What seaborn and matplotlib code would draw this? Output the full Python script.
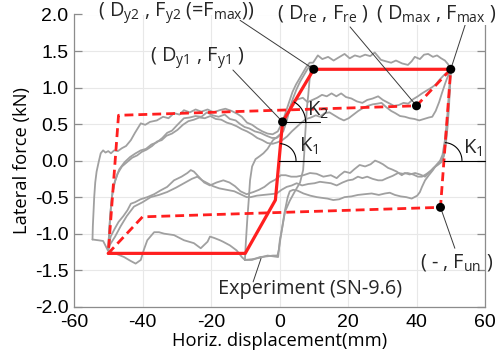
import numpy as np
import matplotlib
matplotlib.use("Agg")
import matplotlib.pyplot as plt
import seaborn as sns

# ---------------- data ----------------
x_ticks = [-60, -40, -20, 0, 20, 40, 60]
y_ticks = [-2.0, -1.5, -1.0, -0.5, 0.0, 0.5, 1.0, 1.5, 2.0]

# key points of the model (mm, kN)
pt_names = ["Dy1", "Dy2", "Dre", "Dmax", "Fun"]
pt_x = [0.9, 10.0, 40.0, 50.0, 47.0]
pt_y = [0.53, 1.25, 0.75, 1.25, -0.64]

# skeleton (solid) and unloading/reloading (dashed) model lines
skel_x = [-50.0, -10.0, -1.2, 0.9, 10.0, 50.0]
skel_y = [-1.27, -1.27, -0.54, 0.53, 1.25, 1.25]
hyst_x = [50.0, 40.0, -47.0, -50.0, -40.0, 47.0, 50.0]
hyst_y = [1.25, 0.75, 0.62, -1.27, -0.77, -0.64, 1.25]

# experiment (SN-9.6) branches
exp_up1 = [(-54.6,-1.08),(-54.5,-0.9),(-54.3,-0.7),(-54.1,-0.5),(-53.8,-0.3),(-53.4,-0.15),(-52.8,-0.02),
           (-52.2,0.10),(-51.5,0.14),(-50.8,0.11),(-50.0,0.13),(-49.2,0.10),(-48.3,0.14),(-47.2,0.13),
           (-46.0,0.17),(-44.8,0.20),(-43.4,0.28),(-42.2,0.38),(-40.5,0.51),(-39.2,0.49),(-37.8,0.53),
           (-35.8,0.55),(-34.0,0.60),(-32.4,0.58),(-30.8,0.65),(-29.2,0.63),(-27.9,0.69),(-26.2,0.66),
           (-24.5,0.70),(-22.8,0.67),(-21.0,0.70),(-19.2,0.66),(-17.5,0.69),(-15.8,0.71),(-14.0,0.68),
           (-12.3,0.64),(-11.0,0.60),(-9.5,0.52),(-8.0,0.49),(-6.5,0.44),(-5.0,0.40),(-3.5,0.37),
           (-2.0,0.36),(-0.5,0.40),(0.8,0.52),(1.8,0.66),(2.8,0.80),(3.8,0.94),(4.8,1.04),(5.8,1.12),
           (6.8,1.20),(7.8,1.28),(8.8,1.34),(9.8,1.34),(11.2,1.44),(12.5,1.39),(14.2,1.42),(15.8,1.37),
           (17.2,1.41),(19.0,1.46),(20.5,1.40),(22.0,1.44),(23.5,1.42),(25.0,1.45),(26.5,1.43),
           (27.8,1.48),(29.6,1.38),(31.0,1.36),(32.6,1.34),(34.0,1.37),(35.8,1.33),(37.5,1.31),
           (38.6,1.36),(39.5,1.42),(41.0,1.39),(42.2,1.45),(43.4,1.46),(44.8,1.42),(46.0,1.44),
           (47.2,1.40),(48.3,1.37),(49.2,1.32),(50.0,1.25)]
exp_up2 = [(-50.0,-1.22),(-49.7,-0.95),(-49.3,-0.68),(-48.8,-0.45),(-48.0,-0.28),(-46.8,-0.12),(-45.2,-0.02),
           (-43.6,0.05),(-42.0,0.10),(-40.5,0.14),(-39.0,0.16),(-37.4,0.22),(-35.8,0.25),(-34.2,0.31),
           (-32.8,0.38),(-31.4,0.41),(-29.8,0.49),(-27.9,0.58),(-26.2,0.59),(-24.5,0.61),(-22.8,0.60),
           (-21.2,0.66),(-19.5,0.62),(-17.8,0.60),(-16.0,0.63),(-14.5,0.57),(-12.8,0.55),(-11.5,0.50),
           (-10.2,0.46),(-8.8,0.44),(-7.2,0.40),(-5.6,0.38),(-3.8,0.34),(-2.2,0.31),(-0.8,0.31),
           (0.4,0.36),(1.4,0.46),(2.3,0.60),(3.2,0.74),(4.2,0.82),(5.4,0.84),(6.8,0.86),(8.2,0.80),
           (9.6,0.83),(11.0,0.86),(12.4,0.90),(13.8,0.88),(15.2,0.92),(16.6,0.88),(18.0,0.92),
           (19.4,0.87),(21.0,0.85),(22.6,0.81),(24.2,0.79),(25.6,0.83),(27.2,0.85),(28.8,0.88),
           (30.2,0.83),(31.8,0.79),(33.4,0.75),(34.8,0.76),(36.2,0.79),(37.6,0.78),(39.0,0.84),
           (40.4,0.88),(41.6,0.92),(43.0,0.96),(44.4,1.00),(45.6,1.04),(46.6,1.10),(47.8,1.16),
           (49.0,1.21),(50.0,1.25)]
exp_up3 = [(-50.0,-1.20),(-49.5,-0.80),(-49.0,-0.52),(-48.3,-0.32),(-47.3,-0.18),(-46.0,-0.08),(-44.5,-0.02),
           (-43.0,0.04),(-41.6,0.07),(-40.2,0.12),(-38.8,0.15),(-37.2,0.20),(-35.8,0.26),(-34.4,0.28),
           (-33.0,0.34),(-31.4,0.37),(-29.8,0.42),(-28.2,0.49),(-26.6,0.54),(-25.0,0.56),(-23.4,0.59),
           (-21.8,0.58),(-20.2,0.61),(-18.6,0.57),(-17.0,0.56),(-15.4,0.52),(-14.0,0.50),(-12.5,0.47),
           (-11.0,0.43),(-9.5,0.40),(-8.0,0.36),(-6.5,0.31),(-5.0,0.28),(-3.5,0.24),(-2.0,0.23),
           (-0.6,0.25),(0.8,0.28),(2.2,0.33),(3.6,0.40),(5.0,0.46),(6.4,0.52),(7.8,0.57),(9.2,0.59),
           (10.6,0.62),(11.8,0.60),(13.2,0.65),(14.6,0.66),(16.0,0.62),(17.4,0.58),(18.8,0.55),
           (20.2,0.58),(21.6,0.63),(23.0,0.68),(24.4,0.72),(25.8,0.75),(27.2,0.77),(28.6,0.78),
           (29.8,0.79),(31.2,0.73),(32.6,0.68),(33.8,0.65),(35.2,0.61),(36.6,0.60),(38.0,0.58),
           (39.4,0.57),(40.8,0.55),(42.2,0.57),(43.6,0.59),(44.6,0.60),(45.6,0.68),(46.6,0.80),
           (47.4,0.92),(48.4,1.06),(49.2,1.16),(50.0,1.25)]
exp_dn1 = [(50.0,1.25),(49.8,1.02),(49.5,0.75),(49.1,0.48),(48.6,0.24),(48.0,0.06),(47.4,0.00),(46.4,-0.04),
           (45.4,-0.08),(44.0,-0.15),(42.5,-0.22),(41.0,-0.19),(39.6,-0.17),(38.0,-0.19),(36.6,-0.17),
           (35.7,-0.20),(34.2,-0.15),(32.8,-0.12),(31.7,-0.10),(30.2,-0.05),(29.0,-0.02),(27.9,0.00),
           (26.6,-0.05),(25.0,-0.08),(23.4,-0.06),(21.8,-0.12),(20.6,-0.17),(19.0,-0.15),(17.6,-0.20),
           (16.7,-0.24),(15.0,-0.20),(12.8,-0.22),(10.8,-0.18),(8.9,-0.17),(7.0,-0.20),(5.0,-0.22),
           (3.4,-0.22),(1.8,-0.20),(0.4,-0.20),(-1.2,-0.26),(-2.8,-0.30),(-4.4,-0.36),(-6.0,-0.40),
           (-7.6,-0.43),(-9.6,-0.46),(-11.4,-0.42),(-13.0,-0.35),(-14.6,-0.30),(-16.4,-0.27),
           (-18.4,-0.30),(-20.3,-0.34),(-22.0,-0.30),(-23.6,-0.22),(-25.0,-0.15),(-25.9,-0.13),
           (-26.9,-0.17),(-28.6,-0.22),(-30.8,-0.27),(-32.8,-0.36),(-34.8,-0.41),(-36.6,-0.46),
           (-38.6,-0.50),(-40.6,-0.53),(-42.2,-0.57),(-43.4,-0.59),(-44.4,-0.68),(-45.6,-0.76),
           (-47.0,-0.84),(-48.2,-0.94),(-49.3,-1.04),(-50.0,-1.22)]
exp_dn2 = [(50.0,1.25),(49.6,0.95),(49.2,0.62),(48.7,0.34),(48.1,0.12),(47.3,-0.02),(46.2,-0.06),(45.0,-0.10),
           (44.4,-0.13),(43.0,-0.18),(41.6,-0.22),(40.4,-0.22),(39.0,-0.19),(37.4,-0.17),(36.0,-0.18),
           (34.6,-0.17),(33.0,-0.21),(31.4,-0.24),(30.0,-0.27),(28.8,-0.27),(27.2,-0.25),(25.6,-0.22),
           (24.2,-0.24),(22.9,-0.22),(21.4,-0.26),(20.0,-0.27),(18.4,-0.30),(16.7,-0.34),(15.0,-0.31),
           (13.4,-0.30),(11.8,-0.29),(10.2,-0.31),(8.4,-0.32),(6.6,-0.34),(5.0,-0.31),(3.6,-0.34),
           (2.1,-0.36),(0.6,-0.40),(-0.8,-0.45),(-2.6,-0.46),(-4.7,-0.47),(-6.6,-0.48),(-8.4,-0.50),
           (-9.6,-0.50),(-11.4,-0.46),(-13.2,-0.42),(-15.4,-0.40),(-17.6,-0.38),(-19.4,-0.35),
           (-21.0,-0.31),(-22.6,-0.27),(-24.0,-0.22),(-25.6,-0.25),(-27.9,-0.31),(-30.2,-0.37),
           (-32.8,-0.43),(-35.2,-0.47),(-37.6,-0.50),(-40.0,-0.57),(-42.5,-0.63),(-44.6,-0.76),
           (-46.4,-0.90),(-48.0,-1.04),(-49.5,-1.15),(-50.0,-1.22)]
exp_dn3 = [(50.0,1.25),(49.4,0.88),(48.9,0.55),(48.3,0.28),(47.6,0.08),(46.9,0.00),(45.8,-0.06),(44.8,-0.13),
           (43.6,-0.20),(42.5,-0.27),(41.6,-0.36),(41.0,-0.43),(40.2,-0.48),(38.6,-0.52),(37.0,-0.50),
           (35.4,-0.49),(33.7,-0.47),(32.2,-0.44),(30.8,-0.45),(29.0,-0.47),(26.9,-0.45),(24.8,-0.46),
           (22.9,-0.47),(21.0,-0.49),(19.0,-0.50),(17.4,-0.53),(15.7,-0.54),(14.0,-0.52),(12.4,-0.51),
           (10.9,-0.50),(9.0,-0.48),(7.0,-0.45),(5.2,-0.41),(4.0,-0.40),(3.0,-0.42),(2.4,-0.50),
           (1.6,-0.68),(0.9,-0.88),(0.3,-1.06),(-0.2,-1.22),(-0.6,-1.30),(-1.9,-1.30),(-3.5,-1.31),
           (-5.7,-1.32),(-8.0,-1.36),(-10.1,-1.36),(-11.0,-1.32),(-12.5,-1.23),(-14.5,-1.16),
           (-16.5,-1.11),(-17.4,-1.09),(-19.0,-1.06),(-20.3,-1.04),(-21.0,-1.11),(-23.0,-1.20),
           (-25.0,-1.13),(-27.9,-1.09),(-30.8,-1.02),(-33.7,-1.00),(-35.2,-0.98),(-36.6,-0.98),
           (-38.6,-1.09),(-39.6,-1.22),(-40.5,-1.36),(-42.0,-1.41),(-43.6,-1.37),(-45.4,-1.32),
           (-47.5,-1.28),(-50.0,-1.24),(-51.5,-1.10),(-53.0,-1.09),(-54.6,-1.08)]
exp_inner = [(-10.1,-1.36),(-9.8,-1.10),(-9.4,-0.80),(-9.0,-0.55),(-8.6,-0.27),(-8.0,-0.08),(-7.0,0.02),
             (-5.8,0.06),(-4.7,0.10),(-3.5,0.16),(-1.9,0.28),(-0.5,0.33),(1.1,0.40),(2.2,0.56),(3.0,0.72),
             (4.0,0.86),(5.0,0.98),(6.0,1.08),(7.0,1.16),(8.0,1.24),(8.6,1.28),(9.2,1.30),(8.8,1.12),
             (8.4,0.90),(8.0,0.72),(7.7,0.50),(7.4,0.28),(7.2,0.08),(6.9,-0.13),(6.0,-0.30),(4.5,-0.42),
             (3.0,-0.55),(1.6,-0.70),(0.8,-0.92),(0.1,-1.09),(-0.4,-1.32),(-1.9,-1.31),(-3.5,-1.30),
             (-5.7,-1.33),(-8.0,-1.35),(-10.1,-1.36)]
exp_curves = [exp_up1, exp_up2, exp_up3, exp_dn1, exp_dn2, exp_dn3, exp_inner]

# ---------------- figure ----------------
sns.set_theme(style="white")
plt.rcParams['font.family'] = ['Open Sans', 'DejaVu Sans']
plt.rcParams['axes.unicode_minus'] = False

fig = plt.figure(figsize=(4.98, 3.62), dpi=100)
ax = fig.add_axes([74/498, 1-306.7/362, (485-74)/498, (306.7-14.5)/362])

GRAY = "#a0a0a0"
RED = "#ff1f1f"

for c in exp_curves:
    arr = np.array(c)
    sns.lineplot(x=arr[:, 0], y=arr[:, 1], sort=False, estimator=None, ax=ax,
                 color=GRAY, lw=1.3, zorder=2)

sns.lineplot(x=hyst_x, y=hyst_y, sort=False, estimator=None, ax=ax, color=RED,
             lw=2.0, zorder=3, linestyle=(0, (3.2, 1.8)))
sns.lineplot(x=skel_x, y=skel_y, sort=False, estimator=None, ax=ax, color=RED,
             lw=2.3, zorder=4)
sns.scatterplot(x=pt_x, y=pt_y, ax=ax, color="black", s=42, zorder=6,
                edgecolor="none")

ax.set_xlim(-60, 60)
ax.set_ylim(-2.0, 2.0)
ax.set_xticks(x_ticks)
ax.set_yticks(y_ticks)
ax.set_xticklabels([f"{v:d}" for v in x_ticks], family="Liberation Sans", fontsize=14)
ax.set_yticklabels([f"{v:.1f}" for v in y_ticks], family="Liberation Sans", fontsize=14)
ax.grid(True, color="#e8e8e8", lw=0.8)
ax.set_axisbelow(True)
for s in ["left", "bottom", "right"]:
    ax.spines[s].set_color("#8c8c8c")
    ax.spines[s].set_linewidth(0.9)
ax.spines["top"].set_visible(False)
ax.tick_params(axis="y", which="both", left=True, right=True, direction="in",
               length=6, width=0.9, color="#8c8c8c", pad=4, labelcolor="black")
ax.tick_params(axis="x", bottom=True, direction="in", length=0, pad=5, labelcolor="black")

ax.set_xlabel("Horiz. displacement(mm)", fontsize=13.2, labelpad=1, color="black")
ax.set_ylabel("Lateral force (kN)", fontsize=13.2, labelpad=3, color="black")

# ---- angle marks ----
fig.canvas.draw()
p0 = ax.transData.transform((0, 0))
p1 = ax.transData.transform((1, 1))
sx, sy = p1[0] - p0[0], p1[1] - p0[1]

def angle_mark(cx, cy, ex, ey, r_px, xend):
    ang = np.arctan2((ey - cy) * sy, (ex - cx) * sx)
    t = np.linspace(0, ang, 40)
    ax.plot(cx + r_px * np.cos(t) / sx, cy + r_px * np.sin(t) / sy, color="black",
            lw=0.8, zorder=5, clip_on=False)
    ax.plot([cx, xend], [cy, cy], color="black", lw=0.8, zorder=5, clip_on=False)

k1x = skel_x[2] + (skel_x[3] - skel_x[2]) * (0 - skel_y[2]) / (skel_y[3] - skel_y[2])
angle_mark(k1x, 0.0, skel_x[3], skel_y[3], 17, 11.8)
angle_mark(skel_x[3], skel_y[3], skel_x[4], skel_y[4], 23, 11.8)
k1rx = hyst_x[5] + (hyst_x[6] - hyst_x[5]) * (0 - hyst_y[5]) / (hyst_y[6] - hyst_y[5])
angle_mark(k1rx, 0.0, hyst_x[6], hyst_y[6], 18, 60)

ktxt = dict(fontsize=14.5, ha="center", va="center", zorder=7)
ax.text(8.6, 0.19, r"K$_{\mathregular{1}}$", **ktxt)
ax.text(11.3, 0.69, r"K$_{\mathregular{2}}$", **ktxt)
ax.text(56.4, 0.17, r"K$_{\mathregular{1}}$", **ktxt)

# ---- labels with leader lines ----
lab = dict(fontsize=14.3, ha="center", va="center", zorder=8, clip_on=False)
leader = dict(color="#3a3a3a", lw=0.7, zorder=5, clip_on=False)

ax.plot([-11.5, pt_x[1]], [1.92, pt_y[1]], **leader)
ax.plot([20.6, pt_x[2]], [1.83, pt_y[2]], **leader)
ax.plot([54.5, pt_x[3]], [1.90, pt_y[3]], **leader)
ax.plot([-13.6, pt_x[0]], [1.24, pt_y[0]], **leader)
ax.plot([pt_x[4], 51.2], [pt_y[4], -1.20], **leader)
ax.plot([-5.4, -7.7], [-1.34, -1.66], **leader)

ax.text(-30.2, 2.02, r"( D$_{\mathregular{y2}}$ , F$_{\mathregular{y2}}$ (=F$_{\mathregular{max}}$))", **lab)
ax.text(12.6, 2.02, r"( D$_{\mathregular{re}}$ , F$_{\mathregular{re}}$ )", **lab)
ax.text(45.7, 2.02, r"( D$_{\mathregular{max}}$ , F$_{\mathregular{max}}$ )",
        bbox=dict(facecolor="white", edgecolor="none", pad=1.0), **lab)
ax.text(-24.1, 1.40, r"( D$_{\mathregular{y1}}$ , F$_{\mathregular{y1}}$ )", **lab)
ax.text(51.6, -1.39, r"( - , F$_{\mathregular{un}}$ )", **lab)
ax.text(8.9, -1.76, "Experiment (SN-9.6)", **lab)

fig.savefig("out.png", dpi=100)
